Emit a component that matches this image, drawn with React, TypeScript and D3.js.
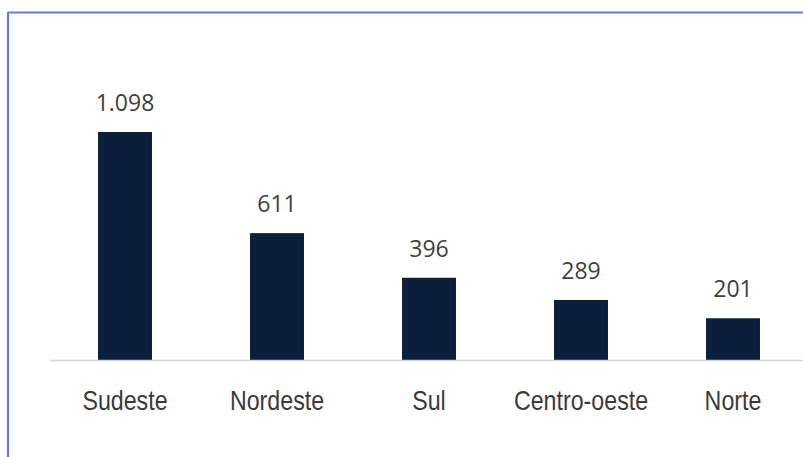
import React from 'react';
import * as d3 from 'd3';

const regions = ['Sudeste', 'Nordeste', 'Sul', 'Centro-oeste', 'Norte'];
const counts = [1098, 611, 396, 289, 201];
const valueLabels = ['1.098', '611', '396', '289', '201'];

const W = 803;
const H = 457;

export default function App() {
  const x = d3.scaleBand<string>()
    .domain(regions)
    .range([49, 809])
    .paddingInner(0.645)
    .paddingOuter(0.3225);

  const y = d3.scaleLinear()
    .domain([0, 1098])
    .range([360, 132]);

  return (
    <svg width={W} height={H} style={{ position: 'absolute', left: 0, top: 0, background: '#fff' }}>
      {/* frame */}
      <line x1={8} x2={W} y1={12.5} y2={12.5} stroke="#6a7bd4" strokeWidth={2.2} />
      <line x1={8} x2={8} y1={12} y2={H} stroke="#6a7bd4" strokeWidth={2.2} />

      {regions.map((r, i) => {
        const cx = x(r)! + x.bandwidth() / 2;
        return (
          <g key={r}>
            <rect
              x={x(r)}
              y={y(counts[i])}
              width={x.bandwidth()}
              height={y(0) - y(counts[i])}
              fill="#0b1e3b"
            />
            <text
              x={cx}
              y={y(counts[i]) - 21}
              textAnchor="middle"
              fontFamily="'Open Sans', sans-serif"
              fontSize={23}
              fill="#404040"
            >
              {valueLabels[i]}
            </text>
            {/* condensed look: no narrow font installed, so squeeze horizontally */}
            <text
              transform={`translate(${cx},410) scale(0.86,1)`}
              textAnchor="middle"
              fontFamily="'Liberation Sans', Arial, sans-serif"
              fontSize={27}
              fill="#3a3a3a"
            >
              {r}
            </text>
          </g>
        );
      })}

      {/* baseline */}
      <line x1={50} x2={W} y1={360.5} y2={360.5} stroke="#d4d4d4" strokeWidth={1.5} />
    </svg>
  );
}
